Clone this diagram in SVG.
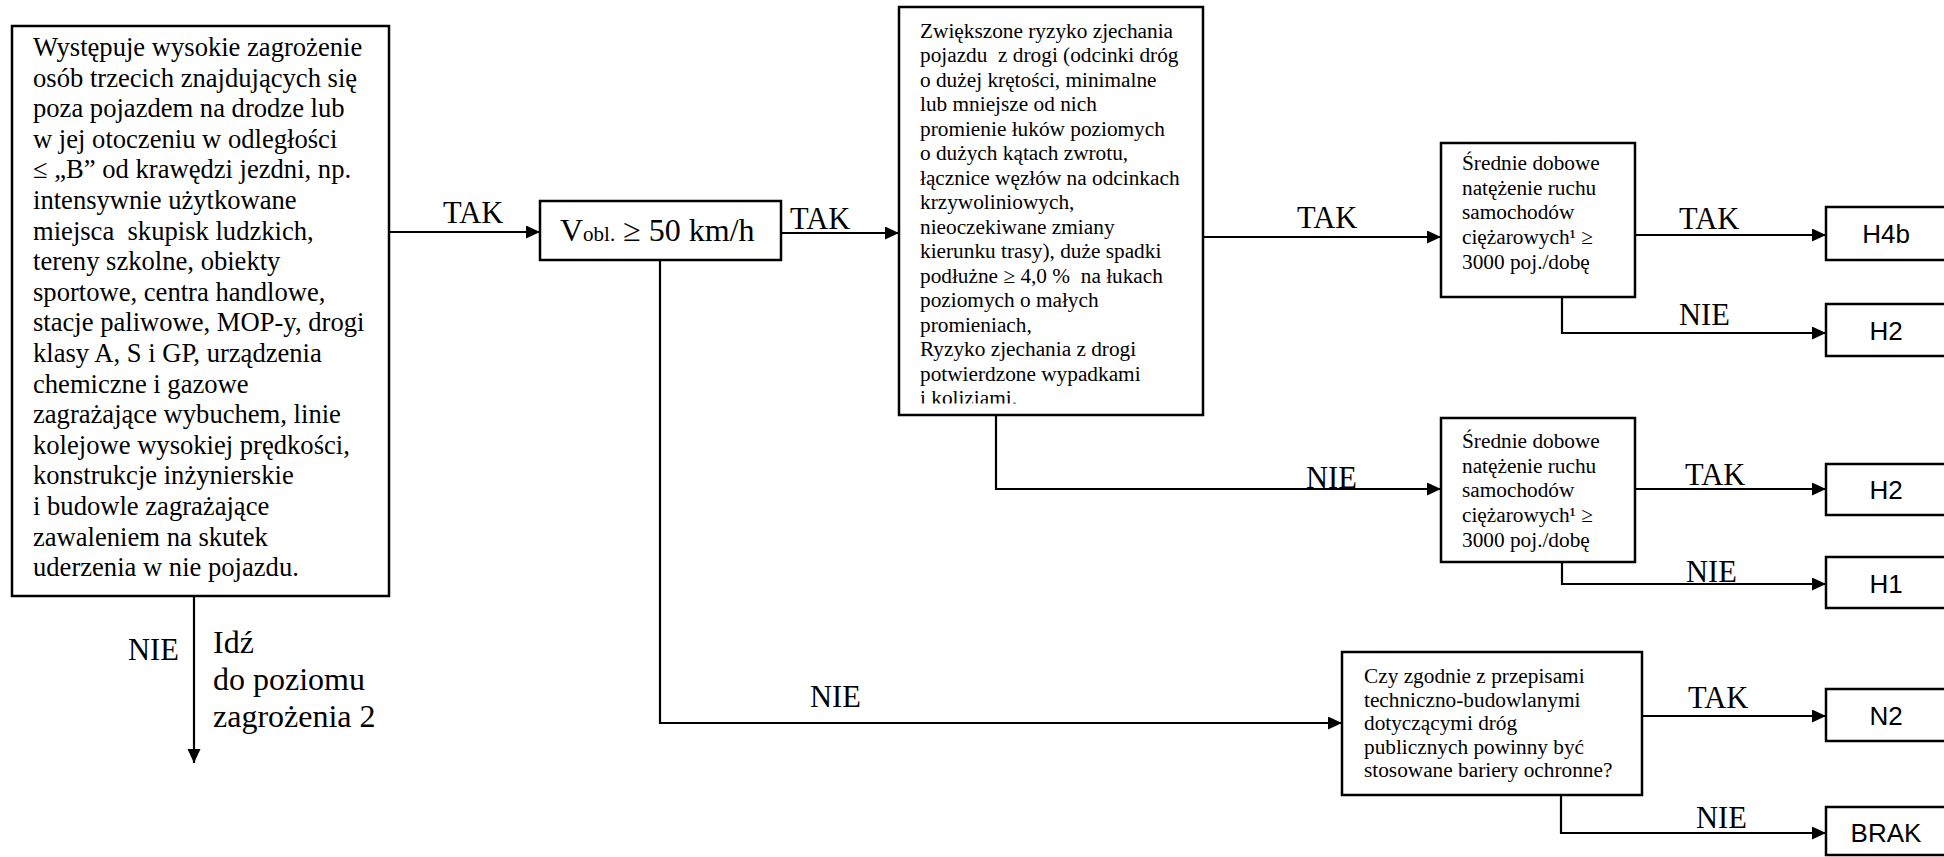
<svg xmlns="http://www.w3.org/2000/svg" width="1944" height="857" viewBox="0 0 1944 857">
<style>
.box{fill:#fff;stroke:#000;stroke-width:2.5}
.ln{fill:none;stroke:#000;stroke-width:2.2;marker-end:url(#ah)}
.t1{font-family:"Liberation Serif","Times New Roman",serif;font-size:26.6px;fill:#000}
.t2{font-family:"Liberation Serif","Times New Roman",serif;font-size:21.3px;fill:#000}
.lb{font-family:"Liberation Serif","Times New Roman",serif;font-size:30.5px;fill:#000}
.rs{font-family:"Liberation Sans",Arial,sans-serif;font-size:26px;fill:#000;text-anchor:middle}
</style>
<defs>
<marker id="ah" markerUnits="userSpaceOnUse" markerWidth="15" markerHeight="14" refX="14" refY="6.5" orient="auto">
<path d="M0,0 L14,6.5 L0,13 Z" fill="#000"/>
</marker>
<clipPath id="midclip"><rect x="899" y="7" width="304" height="396.5"/></clipPath>
</defs>

<g id="connectors">
<path class="ln" d="M389,232 H540"/>
<path class="ln" d="M781,233 H899"/>
<path class="ln" d="M1203,237 H1441"/>
<path class="ln" d="M1635,235 H1826"/>
<path class="ln" d="M1562,297 V333 H1826"/>
<path class="ln" d="M996,415 V489 H1441"/>
<path class="ln" d="M1635,489 H1826"/>
<path class="ln" d="M1562,562 V584 H1826"/>
<path class="ln" d="M660,260 V723 H1342"/>
<path class="ln" d="M1642,716 H1826"/>
<path class="ln" d="M1561,795 V833 H1826"/>
<path class="ln" d="M194,596 V763"/>
</g>

<g id="labels">
<text class="lb" x="443" y="223">TAK</text>
<text class="lb" x="790" y="229">TAK</text>
<text class="lb" x="1297" y="228">TAK</text>
<text class="lb" x="1306" y="488">NIE</text>
<text class="lb" x="810" y="707">NIE</text>
<text class="lb" x="1679" y="229">TAK</text>
<text class="lb" x="1679" y="325">NIE</text>
<text class="lb" x="1685" y="485">TAK</text>
<text class="lb" x="1686" y="582">NIE</text>
<text class="lb" x="1688" y="708">TAK</text>
<text class="lb" x="1696" y="828">NIE</text>
<text class="lb" x="128" y="660">NIE</text>
<text font-family="Liberation Serif, Times New Roman, serif" font-size="32" x="213">
<tspan x="213" y="653">Idź</tspan>
<tspan x="213" y="690">do poziomu</tspan>
<tspan x="213" y="727">zagrożenia 2</tspan>
</text>
</g>

<g id="node-hazard">
<rect class="box" x="12" y="26" width="377" height="570"/>
<text class="t1">
<tspan x="33" y="56">Występuje wysokie zagrożenie</tspan>
<tspan x="33" y="86.6">osób trzecich znajdujących się</tspan>
<tspan x="33" y="117.2">poza pojazdem na drodze lub</tspan>
<tspan x="33" y="147.8">w jej otoczeniu w odległości</tspan>
<tspan x="33" y="178.4">≤ „B” od krawędzi jezdni, np.</tspan>
<tspan x="33" y="209">intensywnie użytkowane</tspan>
<tspan x="33" y="239.6">miejsca&#160; skupisk ludzkich,</tspan>
<tspan x="33" y="270.2">tereny szkolne, obiekty</tspan>
<tspan x="33" y="300.8">sportowe, centra handlowe,</tspan>
<tspan x="33" y="331.4">stacje paliwowe, MOP-y, drogi</tspan>
<tspan x="33" y="362">klasy A, S i GP, urządzenia</tspan>
<tspan x="33" y="392.6">chemiczne i gazowe</tspan>
<tspan x="33" y="423.2">zagrażające wybuchem, linie</tspan>
<tspan x="33" y="453.8">kolejowe wysokiej prędkości,</tspan>
<tspan x="33" y="484.4">konstrukcje inżynierskie</tspan>
<tspan x="33" y="515">i budowle zagrażające</tspan>
<tspan x="33" y="545.6">zawaleniem na skutek</tspan>
<tspan x="33" y="576.2">uderzenia w nie pojazdu.</tspan>
</text>
</g>

<g id="node-speed">
<rect class="box" x="540" y="201" width="241" height="59"/>
<text font-family="Liberation Serif, Times New Roman, serif" font-size="32" x="560" y="241">V<tspan font-size="21">obl.</tspan> ≥ 50 km/h</text>
</g>

<g id="node-risk">
<rect class="box" x="899" y="7" width="304" height="408"/>
<text class="t2" clip-path="url(#midclip)">
<tspan x="920" y="37.5">Zwiększone ryzyko zjechania</tspan>
<tspan x="920" y="62">pojazdu&#160; z drogi (odcinki dróg</tspan>
<tspan x="920" y="86.5">o dużej krętości, minimalne</tspan>
<tspan x="920" y="111">lub mniejsze od nich</tspan>
<tspan x="920" y="135.5">promienie łuków poziomych</tspan>
<tspan x="920" y="160">o dużych kątach zwrotu,</tspan>
<tspan x="920" y="184.5">łącznice węzłów na odcinkach</tspan>
<tspan x="920" y="209">krzywoliniowych,</tspan>
<tspan x="920" y="233.5">nieoczekiwane zmiany</tspan>
<tspan x="920" y="258">kierunku trasy), duże spadki</tspan>
<tspan x="920" y="282.5">podłużne ≥ 4,0 %&#160; na łukach</tspan>
<tspan x="920" y="307">poziomych o małych</tspan>
<tspan x="920" y="331.5">promieniach,</tspan>
<tspan x="920" y="356">Ryzyko zjechania z drogi</tspan>
<tspan x="920" y="380.5">potwierdzone wypadkami</tspan>
<tspan x="920" y="405">i koliziami.</tspan>
</text>
</g>

<g id="node-traffic1">
<rect class="box" x="1441" y="143" width="194" height="154"/>
<text class="t2">
<tspan x="1462" y="170">Średnie dobowe</tspan>
<tspan x="1462" y="194.7">natężenie ruchu</tspan>
<tspan x="1462" y="219.4">samochodów</tspan>
<tspan x="1462" y="244.1">ciężarowych¹ ≥</tspan>
<tspan x="1462" y="268.8">3000 poj./dobę</tspan>
</text>
</g>

<g id="node-traffic2">
<rect class="box" x="1441" y="418" width="194" height="144"/>
<text class="t2">
<tspan x="1462" y="448">Średnie dobowe</tspan>
<tspan x="1462" y="472.7">natężenie ruchu</tspan>
<tspan x="1462" y="497.4">samochodów</tspan>
<tspan x="1462" y="522.1">ciężarowych¹ ≥</tspan>
<tspan x="1462" y="546.8">3000 poj./dobę</tspan>
</text>
</g>

<g id="node-barriers">
<rect class="box" x="1342" y="652" width="300" height="143"/>
<text class="t2">
<tspan x="1364" y="683">Czy zgodnie z przepisami</tspan>
<tspan x="1364" y="706.5">techniczno-budowlanymi</tspan>
<tspan x="1364" y="730">dotyczącymi dróg</tspan>
<tspan x="1364" y="753.5">publicznych powinny być</tspan>
<tspan x="1364" y="777">stosowane bariery ochronne?</tspan>
</text>
</g>

<g id="node-H4b">
<rect class="box" x="1826" y="207" width="130" height="53"/>
<text class="rs" x="1886" y="243">H4b</text>
</g>
<g id="node-H2a">
<rect class="box" x="1826" y="304" width="130" height="52"/>
<text class="rs" x="1886" y="340">H2</text>
</g>
<g id="node-H2b">
<rect class="box" x="1826" y="464" width="130" height="51"/>
<text class="rs" x="1886" y="499">H2</text>
</g>
<g id="node-H1">
<rect class="box" x="1826" y="557" width="130" height="51"/>
<text class="rs" x="1886" y="593">H1</text>
</g>
<g id="node-N2">
<rect class="box" x="1826" y="689" width="130" height="52"/>
<text class="rs" x="1886" y="725">N2</text>
</g>
<g id="node-BRAK">
<rect class="box" x="1826" y="807" width="130" height="48"/>
<text class="rs" x="1886" y="842">BRAK</text>
</g>
</svg>
